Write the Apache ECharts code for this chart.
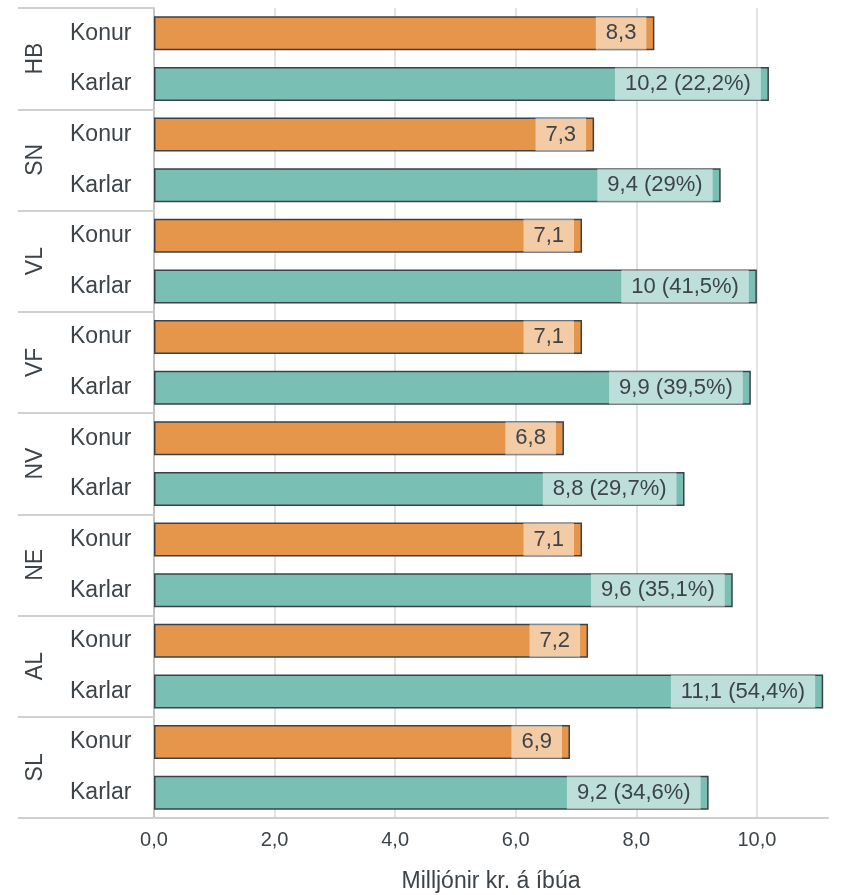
<!DOCTYPE html>
<html>
<head>
<meta charset="utf-8">
<script src="https://cdn.jsdelivr.net/npm/echarts@6/dist/echarts.min.js"></script>
<style>
  html, body { margin: 0; padding: 0; background: #fff; }
  #chart { width: 843px; height: 895px; }
</style>
</head>
<body>
<div id="chart"></div>
<script>
// landshlutar, frá efsta til neðsta
var regions = ["HB", "SN", "VL", "VF", "NV", "NE", "AL", "SL"];
var genders = ["Konur", "Karlar"];
var konur = [8.3, 7.3, 7.1, 7.1, 6.8, 7.1, 7.2, 6.9];
var karlar = [10.2, 9.4, 10, 9.9, 8.8, 9.6, 11.1, 9.2];
var munur = [22.2, 29, 41.5, 39.5, 29.7, 35.1, 54.4, 34.6]; // % munur karla á konur
var xTicks = [0, 2, 4, 6, 8, 10];

var font = "Arial, 'Liberation Sans', sans-serif";
var textColor = "#3d4449";
var orange = "#e6964a";
var teal = "#79bfb3";

function fmt(v) {
	return String(v).replace(".", ",");
}

var cats = [];
var barData = [];
regions.forEach(function (r, i) {
	cats.push(r + "-" + genders[0]);
	barData.push({ value: konur[i], itemStyle: { color: orange }, lbl: fmt(konur[i]) });
	cats.push(r + "-" + genders[1]);
	barData.push({
		value: karlar[i],
		itemStyle: { color: teal },
		lbl: fmt(karlar[i]) + " (" + fmt(munur[i]) + "%)"
	});
});

var myChart = echarts.init(document.getElementById("chart"));
myChart.setOption({
	textStyle: { fontFamily: font },
	grid: { left: 154, right: 15, top: 8, bottom: 77, containLabel: false, outerBoundsMode: "none" },
	xAxis: {
		type: "value",
		min: 0,
		max: 11.18,
		interval: 2,
		name: "Milljónir kr. á íbúa",
		nameLocation: "middle",
		nameGap: 52,
		nameTextStyle: { fontSize: 23, color: textColor, fontFamily: font },
		axisLine: { show: true, lineStyle: { color: "#cfcfcf", width: 2 } },
		axisTick: { show: false },
		axisLabel: {
			fontSize: 20,
			fontFamily: font,
			color: textColor,
			margin: 12,
			showMaxLabel: false,
			formatter: function (v) {
				return xTicks.indexOf(v) >= 0 ? v.toFixed(1).replace(".", ",") : "";
			}
		},
		splitLine: { show: true, showMaxLine: false, lineStyle: { color: "#dadada", width: 1.5 } }
	},
	yAxis: [
		{
			type: "category",
			data: cats,
			inverse: true,
			axisLine: { show: true, lineStyle: { color: "#c4c4c4", width: 2 } },
			axisTick: { show: false },
			axisLabel: {
				fontSize: 23,
				fontFamily: font,
				color: textColor,
				align: "left",
				margin: 84,
				formatter: function (v) {
					return v.split("-")[1];
				}
			}
		},
		{
			type: "category",
			data: regions,
			inverse: true,
			position: "left",
			axisLine: { show: false },
			axisTick: { show: true, length: 136, lineStyle: { color: "#d0d0d0", width: 2 } },
			axisLabel: { fontSize: 23, fontFamily: font, color: textColor, rotate: 90, margin: 107 }
		}
	],
	series: [
		{
			type: "bar",
			yAxisIndex: 0,
			data: barData,
			barCategoryGap: "33%",
			itemStyle: { borderColor: "#3a4247", borderWidth: 1.5 },
			label: {
				show: true,
				position: "insideRight",
				distance: 8,
				fontSize: 22,
				fontFamily: font,
				color: textColor,
				backgroundColor: "rgba(255,255,255,0.5)",
				padding: [0, 10],
				lineHeight: 33,
				formatter: function (p) {
					return p.data.lbl;
				}
			}
		}
	]
});
</script>
</body>
</html>
